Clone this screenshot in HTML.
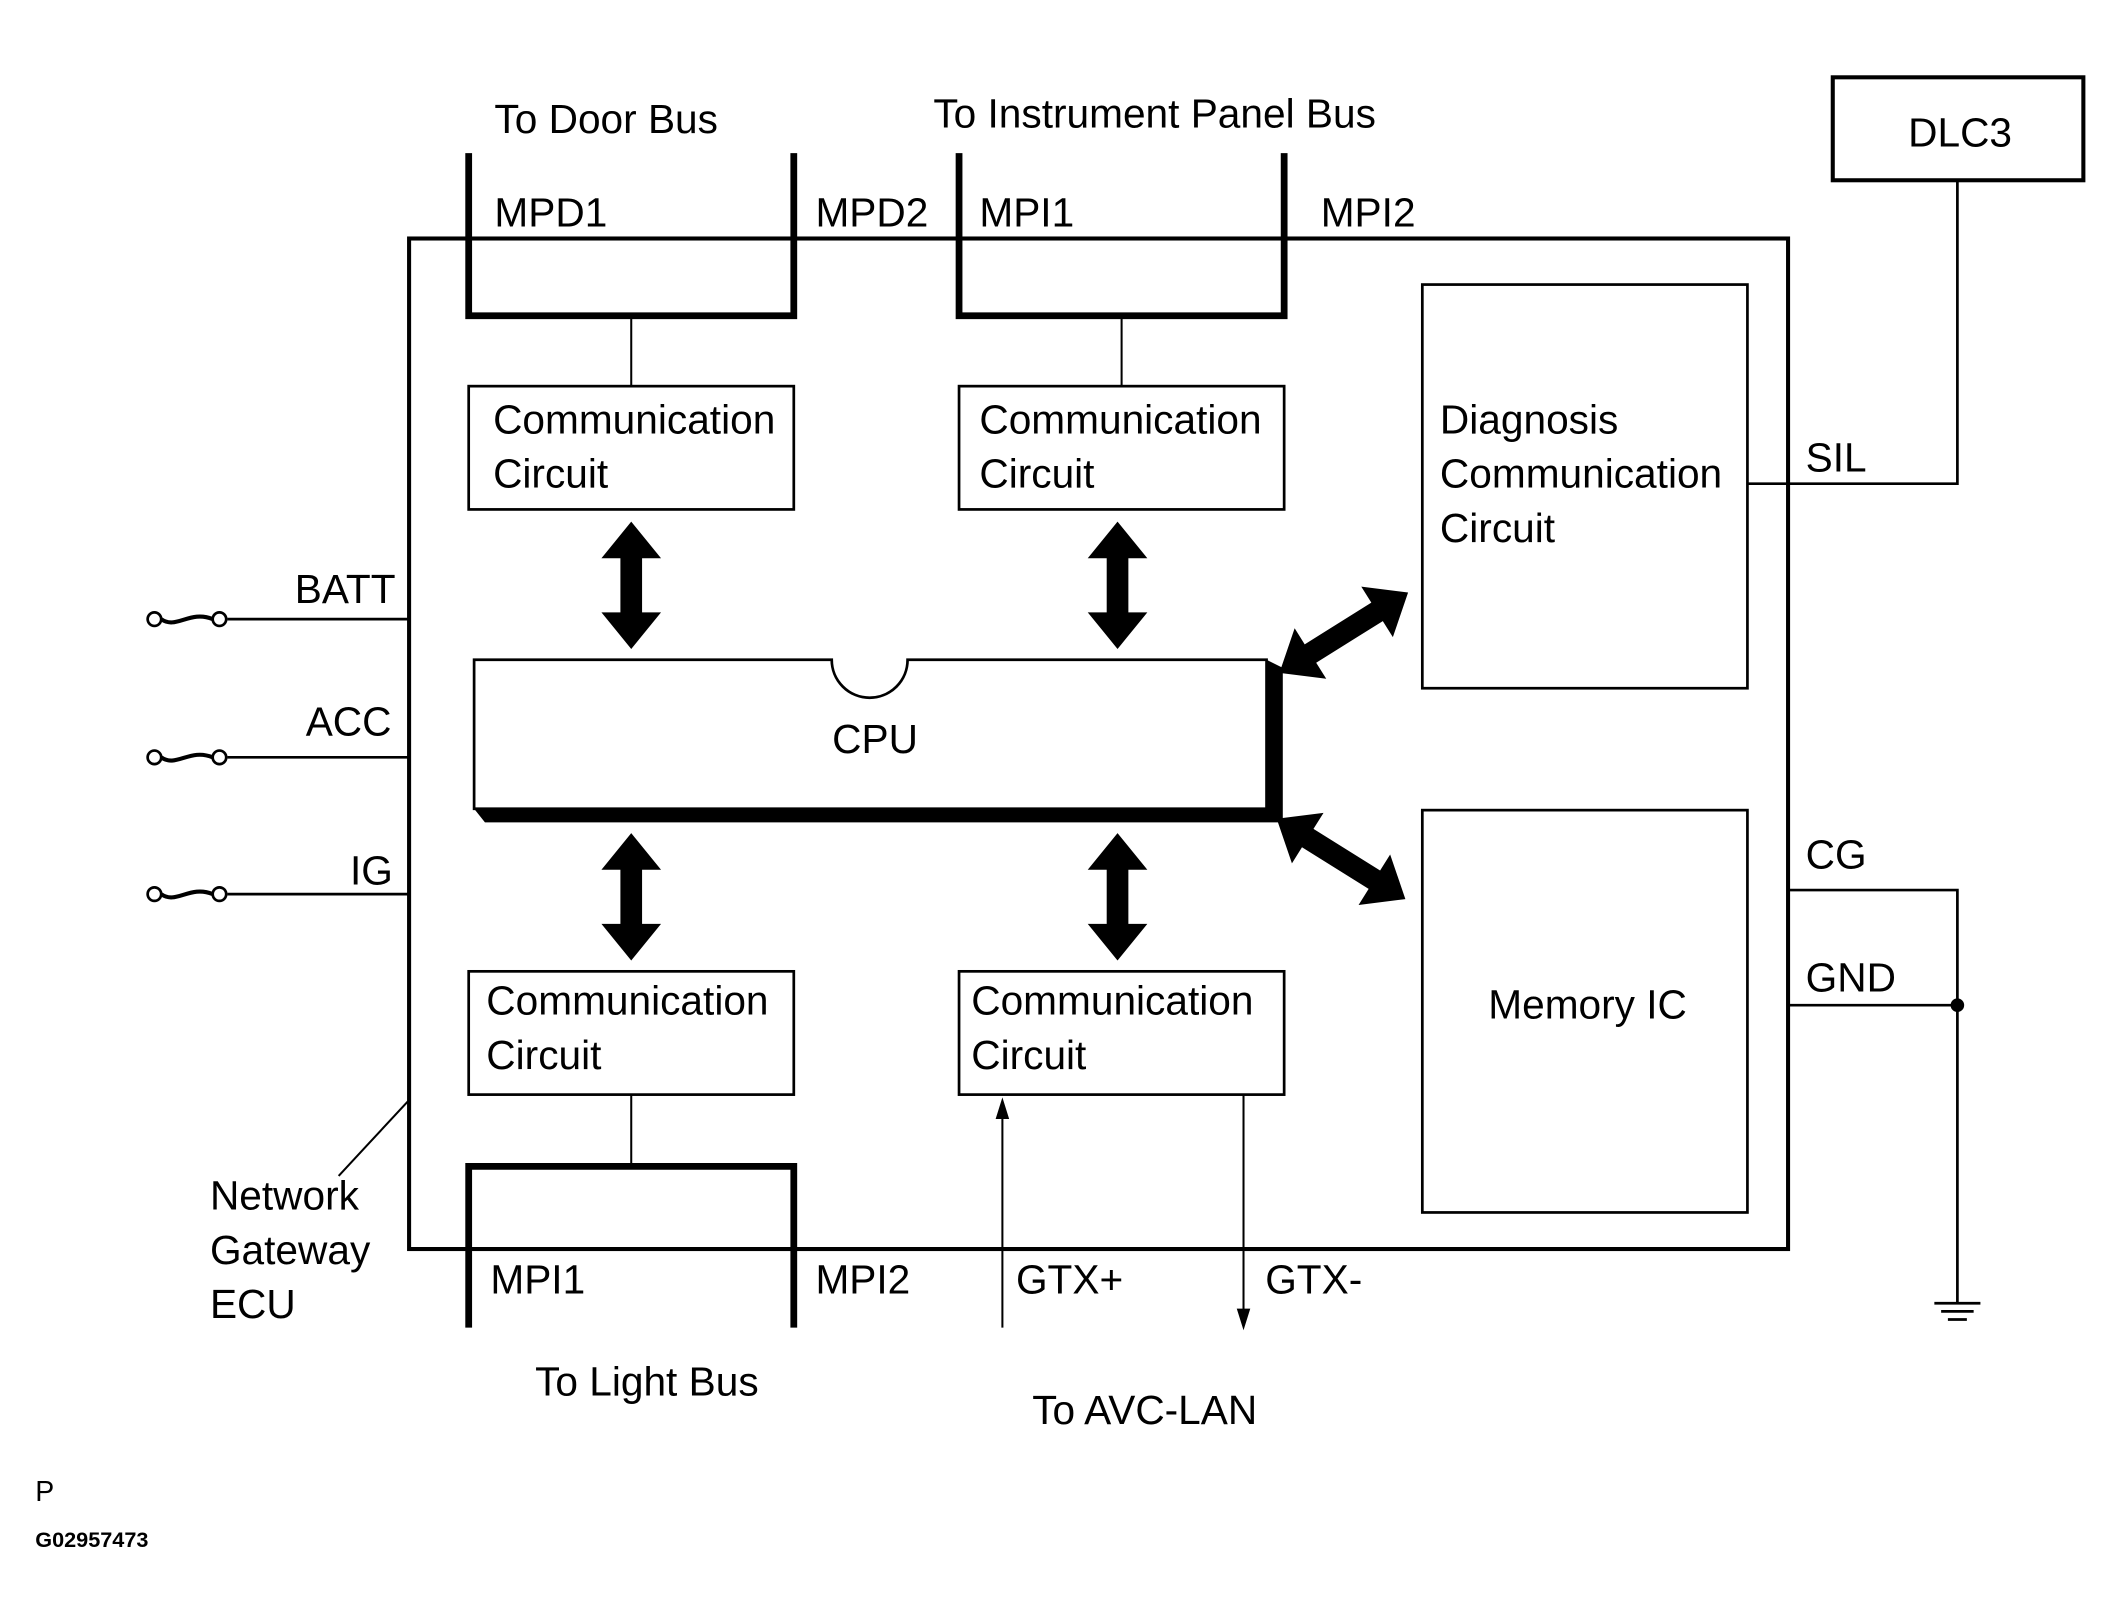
<!DOCTYPE html>
<html><head><meta charset="utf-8"><style>html,body{margin:0;padding:0;background:#fff}svg{display:block}text{font-family:"Liberation Sans",sans-serif;font-size:30px;fill:#000}</style></head>
<body>
<svg width="2124" height="1623" viewBox="0 0 1568 1198" xmlns="http://www.w3.org/2000/svg">
<defs>
<g id="dbl"><polygon points="0,-47 22,-20 8,-20 8,20 22,20 0,47 -22,20 -8,20 -8,-20 -22,-20"/></g>
<g id="dbl2"><polygon points="0,-56 22,-29 8,-29 8,29 22,29 0,56 -22,29 -8,29 -8,-29 -22,-29"/></g>
</defs>
<g fill="none" stroke="#000">
<rect x="302" y="176" width="1018" height="746" stroke-width="3"/>
<polyline points="346,113 346,233 586,233 586,113" stroke-width="5"/>
<polyline points="708,113 708,233 948,233 948,113" stroke-width="5"/>
<polyline points="346,980 346,861 586,861 586,980" stroke-width="5"/>
<line x1="466" y1="233" x2="466" y2="285" stroke-width="1.5"/>
<line x1="828" y1="233" x2="828" y2="285" stroke-width="1.5"/>
<line x1="466" y1="808" x2="466" y2="861" stroke-width="1.5"/>
<rect x="346" y="285" width="240" height="91" stroke-width="2"/>
<rect x="708" y="285" width="240" height="91" stroke-width="2"/>
<rect x="346" y="717" width="240" height="91" stroke-width="2"/>
<rect x="708" y="717" width="240" height="91" stroke-width="2"/>
<rect x="1050" y="210" width="240" height="298" stroke-width="2"/>
<rect x="1050" y="598" width="240" height="297" stroke-width="2"/>
<rect x="1353" y="57" width="185" height="76" stroke-width="3"/>
<polyline points="1445,133 1445,357 1290,357" stroke-width="2"/>
<polyline points="1320,657 1445,657 1445,962" stroke-width="2"/>
<line x1="1320" y1="742" x2="1445" y2="742" stroke-width="2"/>
<line x1="1428" y1="962" x2="1462" y2="962" stroke-width="2"/>
<line x1="1433" y1="968" x2="1457" y2="968" stroke-width="2"/>
<line x1="1438" y1="974" x2="1452" y2="974" stroke-width="2"/>
<line x1="168" y1="457" x2="302" y2="457" stroke-width="2"/>
<line x1="168" y1="559" x2="302" y2="559" stroke-width="2"/>
<line x1="168" y1="660" x2="302" y2="660" stroke-width="2"/>
<g stroke-width="2">
<circle cx="114" cy="457" r="5"/><circle cx="162" cy="457" r="5"/><path d="M119,457 C130,465 140,450 157,457" stroke-width="3"/>
<circle cx="114" cy="559" r="5"/><circle cx="162" cy="559" r="5"/><path d="M119,559 C130,567 140,552 157,559" stroke-width="3"/>
<circle cx="114" cy="660" r="5"/><circle cx="162" cy="660" r="5"/><path d="M119,660 C130,668 140,653 157,660" stroke-width="3"/>
</g>
<line x1="302" y1="812" x2="250" y2="868" stroke-width="1.5"/>
<line x1="740" y1="980" x2="740" y2="820" stroke-width="1.5"/>
<line x1="918" y1="808" x2="918" y2="970" stroke-width="1.5"/>
<path d="M350,487 L614,487 A28,28 0 0 0 670,487 L935,487 L935,597 L350,597 Z" stroke-width="2"/>
</g>
<polygon points="935,487 947,493 947,607 358,607 350,597 935,597"/>
<polygon points="740,810 735,826 745,826"/>
<polygon points="918,982 913,966 923,966"/>
<circle cx="1445" cy="742" r="5"/>
<use href="#dbl" x="466" y="432"/>
<use href="#dbl" x="825" y="432"/>
<use href="#dbl" x="466" y="662"/>
<use href="#dbl" x="825" y="662"/>
<use href="#dbl2" transform="translate(992,467) rotate(58)"/>
<use href="#dbl2" transform="translate(990,634) rotate(-58)"/>
<text x="365" y="98">To Door Bus</text>
<text x="689" y="94">To Instrument Panel Bus</text>
<text x="365" y="167">MPD1</text>
<text x="602" y="167">MPD2</text>
<text x="723" y="167">MPI1</text>
<text x="975" y="167">MPI2</text>
<text x="364" y="320">Communication</text><text x="364" y="360">Circuit</text>
<text x="723" y="320">Communication</text><text x="723" y="360">Circuit</text>
<text x="359" y="749">Communication</text><text x="359" y="789">Circuit</text>
<text x="717" y="749">Communication</text><text x="717" y="789">Circuit</text>
<text x="1063" y="320">Diagnosis</text><text x="1063" y="360">Communication</text><text x="1063" y="400">Circuit</text>
<text x="1172" y="752" text-anchor="middle">Memory IC</text>
<text x="646" y="556" text-anchor="middle">CPU</text>
<text x="1447" y="108" text-anchor="middle">DLC3</text>
<text x="1333" y="348">SIL</text>
<text x="1333" y="641">CG</text>
<text x="1333" y="732">GND</text>
<text x="292" y="445" text-anchor="end">BATT</text>
<text x="289" y="543" text-anchor="end">ACC</text>
<text x="290" y="653" text-anchor="end">IG</text>
<text x="155" y="893">Network</text><text x="155" y="933">Gateway</text><text x="155" y="973">ECU</text>
<text x="362" y="955">MPI1</text>
<text x="602" y="955">MPI2</text>
<text x="750" y="955">GTX+</text>
<text x="934" y="955">GTX-</text>
<text x="395" y="1030">To Light Bus</text>
<text x="762" y="1051">To AVC-LAN</text>
<text x="26" y="1108" style="font-size:21px">P</text>
<text x="26" y="1142" style="font-size:16px;font-weight:bold">G02957473</text>
</svg>
</body></html>
